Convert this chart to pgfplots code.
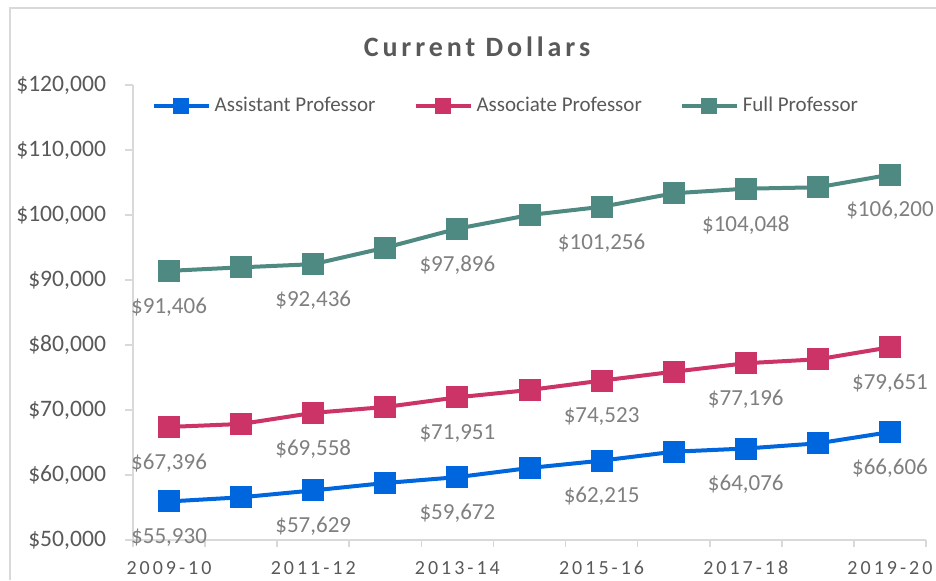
\documentclass[border=0pt]{standalone}
\usepackage{fontspec}
\setmainfont{Carlito}
\newfontfamily\xspaced[LetterSpace=15]{Carlito}
\newfontfamily\tspaced[LetterSpace=14]{Carlito}
\usepackage{pgfplots}
\usepackage{pgfplotstable}
\pgfplotsset{compat=1.18}
\definecolor{asst}{HTML}{0066DD}
\definecolor{assoc}{HTML}{CC3366}
\definecolor{full}{HTML}{4E8A81}
\definecolor{axgray}{HTML}{D9D9D9}
\definecolor{txtgray}{HTML}{595959}
\definecolor{lblgray}{HTML}{7F7F7F}
\pgfplotstableread{
x asst assoc full
0 55930 67396 91406
1 56570 67850 91950
2 57629 69558 92436
3 58770 70460 94970
4 59672 71951 97896
5 61080 73080 100000
6 62215 74523 101256
7 63580 75890 103340
8 64076 77196 104048
9 64870 77800 104260
10 66606 79651 106200
}\data
\begin{document}
\begin{tikzpicture}
\path[use as bounding box] (0,0) rectangle (468pt,290pt);
\draw[axgray, line width=1pt] (5pt,0pt) -- (5pt,286pt) -- (470pt,286pt);
\node[font=\tspaced\bfseries\fontsize{14}{16}\selectfont, text=txtgray] at (238.5pt,266.5pt) {Current Dollars};
\begin{axis}[
  at={(66.5pt,20pt)}, anchor=south west,
  scale only axis, width=396.5pt, height=227.5pt,
  xmin=-0.5, xmax=10.5, ymin=50000, ymax=120000,
  axis x line*=bottom, axis y line*=left,
  axis line style={axgray, line width=0.8pt, -},
  tick align=outside,
  xtick={0,2,...,10},
  xticklabels={2009-10,2011-12,2013-14,2015-16,2017-18,2019-20},
  minor xtick={-0.5,0.5,...,10.5},
  major x tick style={draw=none},
  minor x tick style={axgray, line width=0.8pt},
  minor tick length=3.5pt,
  ytick={50000,60000,...,120000},
  y tick style={axgray, line width=0.8pt},
  major tick length=4pt,
  scaled y ticks=false,
  /pgf/number format/assume math mode=true,
  yticklabel={\$\pgfmathprintnumber[fixed,precision=0,1000 sep={,}]{\tick}},
  yticklabel style={font=\fontsize{11.8}{13}\selectfont, text=txtgray, xshift=-6pt},
  xticklabel style={font=\xspaced\fontsize{10}{12}\selectfont, text=txtgray, yshift=-3pt},
  legend columns=3,
  legend cell align=left,
  legend style={at={(0.023,0.954)}, anchor=west, draw=none, fill=none, inner sep=0pt,
    font=\fontsize{10.5}{12}\selectfont, text=txtgray,
    /tikz/every even column/.append style={column sep=17pt}},
  legend image code/.code={\draw[mark repeat=2,mark phase=2,mark size=3pt] plot coordinates {(0pt,0pt)(13.75pt,0pt)(27.5pt,0pt)};},
  every node near coord/.append style={anchor=center, yshift=-18pt, font=\fontsize{11.5}{13}\selectfont, text=lblgray},
  clip=false,
]
\addplot[asst, line width=2pt, mark=square*, mark size=4.5pt, mark options={solid}] table[x=x,y=asst]{\data};
\addlegendentry{Assistant Professor}
\addplot[assoc, line width=2pt, mark=square*, mark size=4.5pt, mark options={solid}] table[x=x,y=assoc]{\data};
\addlegendentry{Associate Professor}
\addplot[full, line width=2pt, mark=square*, mark size=4.5pt, mark options={solid}] table[x=x,y=full]{\data};
\addlegendentry{Full Professor}
\addplot[draw=none, mark=none, forget plot, each nth point=2, point meta=y,
  nodes near coords={\$\pgfmathprintnumber[fixed,precision=0,1000 sep={,}]{\pgfplotspointmeta}}] table[x=x,y=asst]{\data};
\addplot[draw=none, mark=none, forget plot, each nth point=2, point meta=y,
  nodes near coords={\$\pgfmathprintnumber[fixed,precision=0,1000 sep={,}]{\pgfplotspointmeta}}] table[x=x,y=assoc]{\data};
\addplot[draw=none, mark=none, forget plot, each nth point=2, point meta=y,
  nodes near coords={\$\pgfmathprintnumber[fixed,precision=0,1000 sep={,}]{\pgfplotspointmeta}}] table[x=x,y=full]{\data};
\end{axis}
\end{tikzpicture}
\end{document}
